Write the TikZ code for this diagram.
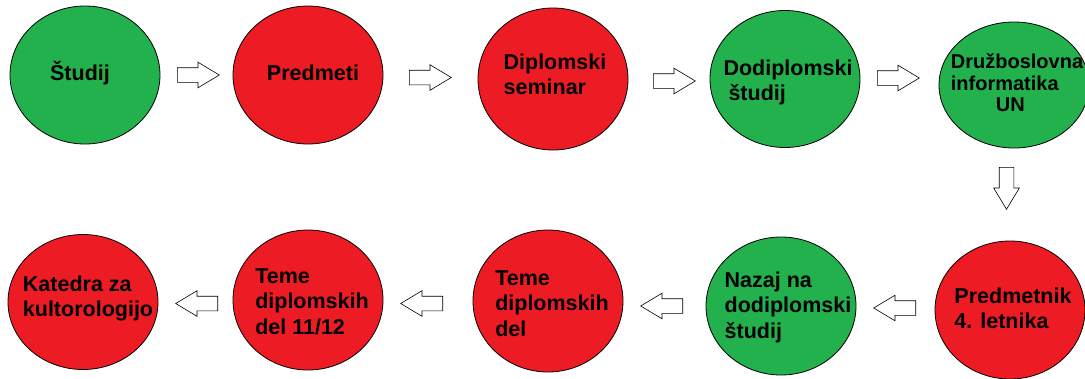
\documentclass[tikz,border=0pt]{standalone}
\usepackage{fontspec}
\setmainfont{Liberation Sans}
\usetikzlibrary{shapes.geometric,shapes.arrows}
\definecolor{paintgreen}{HTML}{22B14C}
\definecolor{paintred}{HTML}{ED1C24}
\begin{document}
\begin{tikzpicture}[x=1pt,y=-1pt,
  bubble/.style={ellipse, draw=black, line width=0.8pt, minimum width=150pt, minimum height=138pt, inner sep=0pt},
  greenbubble/.style={bubble, fill=paintgreen},
  redbubble/.style={bubble, fill=paintred},
  caption/.style={align=left, inner sep=0pt, text=black, font=\fontsize{21.5}{25.5}\selectfont\bfseries},
  blockarrow/.style={single arrow, draw=black, line width=0.6pt, fill=white, inner sep=7pt,
    minimum height=42pt, single arrow head extend=5.5pt, single arrow tip angle=62, anchor=tail},
  toright/.style={blockarrow},
  toleft/.style={blockarrow, shape border rotate=180},
  todown/.style={blockarrow, shape border rotate=270}]
\clip (0,0) rectangle (1085,378);

% top row
\node[greenbubble] (s1) at (85,75) {};
\node[redbubble]   (s2) at (308,75) {};
\node[redbubble, minimum height=142pt] (s3) at (553,79) {};
\node[greenbubble, minimum height=137pt] (s4) at (785,79) {};
\node[greenbubble, minimum height=126pt] (s5) at (1014,85) {};

% bottom row
\node[redbubble, minimum height=135pt] (s6) at (83,302) {};
\node[redbubble, minimum height=140pt] (s7) at (308,300) {};
\node[redbubble, minimum height=142pt] (s8) at (548,301) {};
\node[greenbubble] (s9) at (781,306) {};
\node[redbubble] (s10) at (1010,310) {};

% captions
\node[caption] (t1) at (80,73) {Študij};
\node[caption] (t2) at (313,72.5) {Predmeti};
\node[caption] (t3) at (555,74.5) {Diplomski\\seminar};
\node[caption] (t4) at (788,82.5) {Dodiplomski\\\hspace*{5pt}študij};
\node[caption, font=\fontsize{20}{21.5}\selectfont\bfseries] (t5) at (1017,83) {Družboslovna\\informatika\\\hspace*{45pt}UN};
\node[caption] (t6) at (88,298.5) {Katedra za\\kultorologijo};
\node[caption] (t7) at (312,301.5) {Teme\\diplomskih\\del 11/12};
\node[caption] (t8) at (552,303.5) {Teme\\diplomskih\\del};
\node[caption] (t9) at (788,307) {Nazaj na\\dodiplomski\\študij};
\node[caption] (t10) at (1013,308.5) {Predmetnik\\4. letnika};

% block arrows between the steps (placed by their tails)
\node[toright] (a1) at (177,75) {};
\node[toright] (a2) at (409,77.5) {};
\node[toright] (a3) at (653,81) {};
\node[toright] (a4) at (877,78) {};
\node[todown]  (a5) at (1006.5,167) {};
\node[toleft]  (a6) at (916,308) {};
\node[toleft]  (a7) at (683,306) {};
\node[toleft]  (a8) at (443,303.5) {};
\node[toleft]  (a9) at (218,303.5) {};
\end{tikzpicture}
\end{document}
